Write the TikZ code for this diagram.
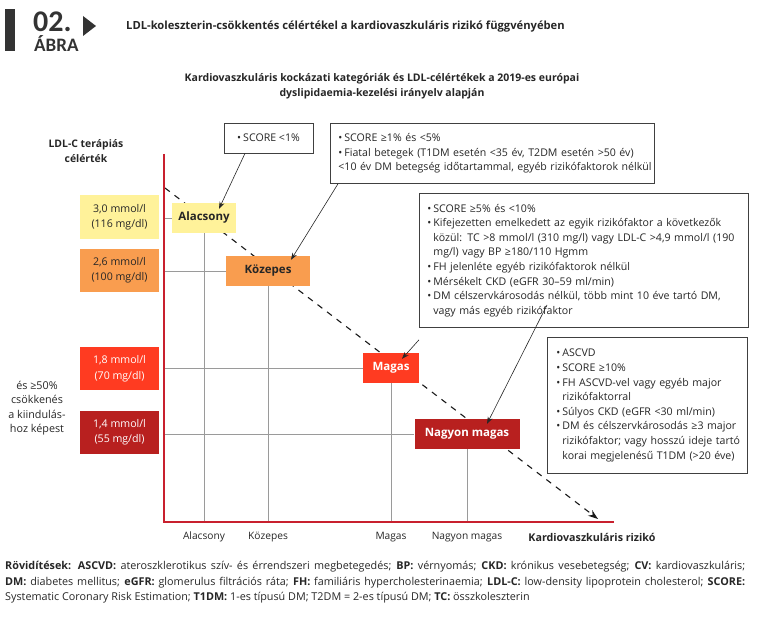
\documentclass[tikz,border=0pt]{standalone}
\usepackage{fontspec}
\setmainfont{Open Sans}
\newfontfamily\hdrfont{Carlito}
\usetikzlibrary{arrows.meta}
\definecolor{cyel}{HTML}{FFF29A}
\definecolor{cora}{HTML}{F99D4F}
\definecolor{cred}{HTML}{FF3B21}
\definecolor{cdred}{HTML}{B8201F}
\definecolor{axred}{HTML}{C8202E}
\definecolor{gridg}{HTML}{9A9A9A}
\definecolor{txt}{HTML}{262626}
\definecolor{hdr}{HTML}{333333}
\newcommand\bu{\makebox[6pt][l]{•}}
\newcommand\ind{\hspace*{6pt}}
\newcommand\oneline[1]{\mbox{#1}}
\begin{document}
\begin{tikzpicture}[x=1pt,y=-1pt,
  cat/.style={font=\fontsize{11.5}{14}\selectfont\bfseries, inner sep=0pt, minimum height=30pt},
  target/.style={minimum width=79pt, minimum height=43pt, inner sep=0pt, align=center, font=\fontsize{10.6}{15.5}\selectfont},
  info/.style={draw=black!75, line width=0.8pt, fill=white, align=left, inner xsep=8pt, inner ysep=0pt, anchor=north west, font=\fontsize{10.6}{14.6}\selectfont, text=txt},
  conn/.style={-{Stealth[length=7pt,width=5pt]}, line width=0.6pt, draw=black!85},
  gridl/.style={draw=gridg, line width=1pt},
  axis/.style={draw=axred, line width=1.8pt},
  lbl/.style={font=\fontsize{10.2}{14}\selectfont, text=txt, inner sep=0pt},
  foot/.style={font=\fontsize{10.8}{14}\selectfont, text=txt, inner sep=0pt, anchor=west}
]
\useasboundingbox (0,0) rectangle (767,620);
% header
\fill[hdr] (5,9) rectangle (15,51);
\node[font=\hdrfont\fontsize{30}{30}\selectfont\bfseries, text=hdr, anchor=west, inner sep=0pt] (num) at (33,22) {02.};
\node[font=\hdrfont\fontsize{19}{19}\selectfont\bfseries, text=hdr, anchor=west, inner sep=0pt] (abra) at (34,44) {ÁBRA};
\fill[hdr] (83,16) -- (83,36) -- (96,26) -- cycle;
\node[font=\fontsize{11.2}{14}\selectfont\bfseries, text=txt, anchor=west, inner sep=0pt] (title) at (126,27) {LDL-koleszterin-csökkentés célértékel a kardiovaszkuláris rizikó függvényében};
% subtitle
\node[font=\fontsize{10.5}{15.5}\selectfont\bfseries, text=txt, align=center, inner sep=0pt] (sub) at (382,86) {Kardiovaszkuláris kockázati kategóriák és LDL-célértékek a 2019-es európai\\dyslipidaemia-kezelési irányelv alapján};
% axis labels
\node[font=\fontsize{10.4}{15}\selectfont\bfseries, text=txt, align=center, inner sep=0pt] (ylab) at (86,151) {LDL-C terápiás\\célérték};
\node[font=\fontsize{10.7}{14}\selectfont\bfseries, text=txt, inner sep=0pt] (xlab) at (592,537) {Kardiovaszkuláris rizikó};
% axes
\coordinate (ytop) at (164,154);
\coordinate (orig) at (164,522);
\coordinate (xend) at (614,522);
% diagonal
\coordinate (dstart) at (165,188);
\coordinate (dend) at (598,519);
\draw[line width=1.1pt, draw=black!90, dash pattern=on 6pt off 6pt, -{Stealth[length=10pt,width=7pt]}] (dstart) -- (dend);
% categories
\node[cat, fill=cyel, text=txt, minimum width=64pt] (low) at (204,218) {Alacsony};
\node[cat, fill=cora, text=txt, minimum width=84pt] (mod) at (268,271) {Közepes};
\node[cat, fill=cred, text=white, minimum width=56pt] (high) at (391,368) {Magas};
\node[cat, fill=cdred, text=white, minimum width=105pt] (vhigh) at (467,434) {Nagyon magas};
% grid
\draw[gridl] (low.west -| orig) -- (low.west);
\draw[gridl] (mod.west -| orig) -- (mod.west);
\draw[gridl] (high.west -| orig) -- (high.west);
\draw[gridl] (vhigh.west -| orig) -- (vhigh.west);
\draw[gridl] (low.south) -- (low.south |- orig);
\draw[gridl] (mod.south) -- (mod.south |- orig);
\draw[gridl] (high.south) -- (high.south |- orig);
\draw[gridl] (vhigh.south) -- (vhigh.south |- orig);
\draw[axis] (ytop) -- (orig) -- (xend);
% x labels
\node[lbl] (xl1) at (204,537) {Alacsony};
\node[lbl] (xl2) at (268,537) {Közepes};
\node[lbl] (xl3) at (391,537) {Magas};
\node[lbl] (xl4) at (467,537) {Nagyon magas};
% targets
\node[target, fill=cyel, text=txt] (t1) at (119.5,217) {3,0 mmol/l\\(116 mg/dl)};
\node[target, fill=cora, text=txt] (t2) at (119.5,270) {2,6 mmol/l\\(100 mg/dl)};
\node[target, fill=cred, text=white] (t3) at (119.5,368.5) {1,8 mmol/l\\(70 mg/dl)};
\node[target, fill=cdred, text=white] (t4) at (119.5,432) {1,4 mmol/l\\(55 mg/dl)};
\node[font=\fontsize{10.8}{14.5}\selectfont, text=txt, align=center, inner sep=0pt] (pct) at (37,408) {és ≥50\%\\csökkenés\\a kiindulás-\\hoz képest};
% info boxes
\node[info, anchor=center, minimum width=89pt, minimum height=30pt, inner xsep=0pt] (b1) at (268.5,138) {\bu SCORE <1\%};
\node[info, text width=308pt, minimum height=60pt] (b2) at (330,123) {\oneline{\bu SCORE ≥1\% és <5\%}\\\oneline{\bu Fiatal betegek (T1DM esetén <35 év, T2DM esetén >50 év)}\\\oneline{<10 év DM betegség időtartammal, egyéb rizikófaktorok nélkül}};
\node[info, text width=313pt, minimum height=134pt] (b3) at (419,193) {\oneline{\bu SCORE ≥5\% és <10\%}\\\oneline{\bu Kifejezetten emelkedett az egyik rizikófaktor a következők}\\\oneline{\ind közül: TC >8 mmol/l (310 mg/l) vagy LDL-C >4,9 mmol/l (190}\\\oneline{\ind mg/l) vagy BP ≥180/110 Hgmm}\\\oneline{\bu FH jelenléte egyéb rizikófaktorok nélkül}\\\oneline{\bu Mérsékelt CKD (eGFR 30–59 ml/min)}\\\oneline{\bu DM célszervkárosodás nélkül, több mint 10 éve tartó DM,}\\\oneline{\ind vagy más egyéb rizikófaktor}};
\node[info, text width=182pt, minimum height=136pt, inner xsep=9pt] (b4) at (547,337) {\oneline{\bu ASCVD}\\\oneline{\bu SCORE ≥10\%}\\\oneline{\bu FH ASCVD-vel vagy egyéb major}\\\oneline{\ind rizikófaktorral}\\\oneline{\bu Súlyos CKD (eGFR <30 ml/min)}\\\oneline{\bu DM és célszervkárosodás ≥3 major}\\\oneline{\ind rizikófaktor; vagy hosszú ideje tartó}\\\oneline{\ind korai megjelenésű T1DM (>20 éve)}};
% connectors
\draw[conn] ([xshift=-23.5pt]b1.south) -- ([xshift=15pt,yshift=-6pt]low.north);
\draw[conn] ([xshift=8pt]b2.south west) -- ([xshift=23pt,yshift=-4pt]mod.north);
\draw[conn] ([yshift=-12pt]b3.south west) -- ([xshift=11pt,yshift=-6pt]high.north);
\draw[conn] ([yshift=32pt]b4.north west) -- ([xshift=20pt,yshift=-5pt]vhigh.north);
% footer
\node[foot] (f1) at (5,567) {\makebox[740pt][s]{\textbf{Rövidítések: ASCVD:} ateroszklerotikus szív- és érrendszeri megbetegedés; \textbf{BP:} vérnyomás; \textbf{CKD:} krónikus vesebetegség; \textbf{CV:} kardiovaszkuláris;}};
\node[foot] (f2) at (5,583) {\makebox[740pt][s]{\textbf{DM:} diabetes mellitus; \textbf{eGFR:} glomerulus filtrációs ráta; \textbf{FH:} familiáris hypercholesterinaemia; \textbf{LDL-C:} low-density lipoprotein cholesterol; \textbf{SCORE:}}};
\node[foot] (f3) at (5,598) {Systematic Coronary Risk Estimation; \textbf{T1DM:} 1-es típusú DM; T2DM = 2-es típusú DM; \textbf{TC:} összkoleszterin};
\end{tikzpicture}
\end{document}
